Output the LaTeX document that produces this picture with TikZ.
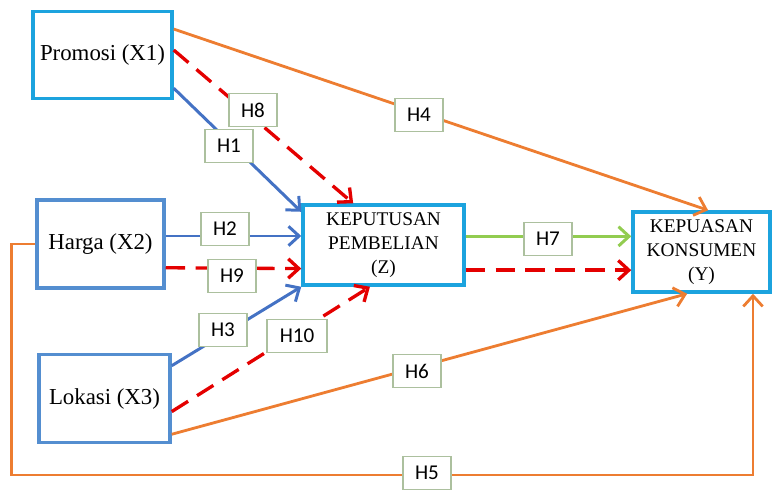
\documentclass[tikz,border=0pt]{standalone}
\usepackage{fontspec}
\setmainfont{Liberation Serif}
\newfontfamily\lblfont{Carlito}
\usetikzlibrary{arrows.meta}

\definecolor{boxcyan}{RGB}{28,163,222}
\definecolor{boxsteel}{RGB}{84,142,208}
\definecolor{arrblue}{RGB}{68,114,196}
\definecolor{arrorange}{RGB}{237,125,49}
\definecolor{arrred}{RGB}{228,0,0}
\definecolor{arrgreen}{RGB}{146,204,80}
\definecolor{lblborder}{RGB}{172,192,158}

\begin{document}
\begin{tikzpicture}[
    x=0.02cm, y=-0.02cm,
    var/.style={
        draw=boxcyan,
        line width=2pt,
        fill=white,
        align=center,
        font=\fontsize{13}{15}\selectfont
    },
    midvar/.style={
        var,
        font=\fontsize{11}{13.5}\selectfont
    },
    lbl/.style={
        draw=lblborder,
        line width=0.9pt,
        fill=white,
        minimum width=0.95cm,
        minimum height=0.66cm,
        inner sep=2pt,
        font=\lblfont\fontsize{12}{14}\selectfont
    },
    tip/.style={-{Straight Barb[length=6pt,width=11pt]}},
    hblue/.style={tip, draw=arrblue, line width=1.7pt},
    horange/.style={tip, draw=arrorange, line width=1.6pt},
    hred/.style={tip, draw=arrred, line width=1.9pt,
        dash pattern=on 11pt off 6pt},
    hgreen/.style={tip, draw=arrgreen, line width=1.7pt}
]
\useasboundingbox (0,0) rectangle (777,495);

%--- Variabel ---
\node[var, minimum width=2.78cm, minimum height=1.74cm]
    (promosi) at (102.5,55) {Promosi (X1)};
\node[var, draw=boxsteel, minimum width=2.54cm, minimum height=1.76cm]
    (harga) at (100.5,244) {Harga (X2)};
\node[var, draw=boxsteel, minimum width=2.62cm, minimum height=1.76cm]
    (lokasi) at (104.5,398.5) {Lokasi (X3)};
\node[midvar, minimum width=3.22cm, minimum height=1.6cm]
    (keputusan) at (383.5,245) {KEPUTUSAN\\PEMBELIAN\\(Z)};
\node[midvar, minimum width=2.74cm, minimum height=1.6cm]
    (kepuasan) at (701.5,252) {KEPUASAN\\KONSUMEN\\(Y)};

%--- X -> Z ---
\draw[hblue] (promosi.-25) -- (keputusan.158);
\draw[hred]  (promosi.4) -- (keputusan.126);
\draw[hblue] (harga.7) -- (harga.7 -| keputusan.west);
\draw[hred]  (harga.-20) -- (keputusan.196);
\draw[hblue] (lokasi.26) -- (keputusan.south west);
\draw[hred]  (lokasi.-11) -- (keputusan.252);

%--- Z -> Y ---
\draw[hgreen] (keputusan.6) -- (keputusan.6 -| kepuasan.west);
\draw[hred]   (keputusan.-17) -- (keputusan.-17 -| kepuasan.west);

%--- X -> Y ---
\draw[horange] (promosi.20) -- (kepuasan.81);
\draw[horange] (lokasi.-28) -- (kepuasan.251);
\coordinate (h5corner) at (753,475);
\draw[horange] (harga.west) -- ++(-24,0) |- (h5corner)
    -- (h5corner |- kepuasan.south);

%--- Hipotesis ---
\node[lbl] (h1) at (229,146) {H1};
\node[lbl] (h2) at (225,229) {H2};
\node[lbl] (h3) at (223,330) {H3};
\node[lbl] (h4) at (419,115) {H4};
\node[lbl] (h5) at (427,473) {H5};
\node[lbl] (h6) at (417,371) {H6};
\node[lbl] (h7) at (548,239) {H7};
\node[lbl] (h8) at (253,110) {H8};
\node[lbl] (h9) at (232,276) {H9};
\node[lbl, minimum width=1.2cm] (h10) at (297,336) {H10};

\end{tikzpicture}
\end{document}
